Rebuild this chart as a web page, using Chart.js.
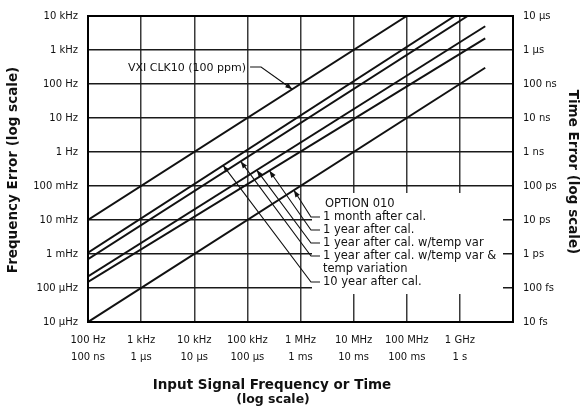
<!DOCTYPE html>
<html>
<head>
<meta charset="utf-8">
<script src="https://cdn.jsdelivr.net/npm/chart.js@4.4.1/dist/chart.umd.min.js"></script>
<style>
  html, body { margin: 0; padding: 0; background: #fff; }
  canvas { display: block; }
</style>
</head>
<body>
<canvas id="chart" width="582" height="407"></canvas>
<script>
// Decade ticks on both axes
const freqTicks = [1e2, 1e3, 1e4, 1e5, 1e6, 1e7, 1e8, 1e9];
const freqLabels = ['100 Hz', '1 kHz', '10 kHz', '100 kHz', '1 MHz', '10 MHz', '100 MHz', '1 GHz'];
const timeLabels = ['100 ns', '1 µs', '10 µs', '100 µs', '1 ms', '10 ms', '100 ms', '1 s'];

const errTicks = [1e-5, 1e-4, 1e-3, 1e-2, 1e-1, 1, 1e1, 1e2, 1e3, 1e4];
const errLabels = ['10 µHz', '100 µHz', '1 mHz', '10 mHz', '100 mHz', '1 Hz', '10 Hz', '100 Hz', '1 kHz', '10 kHz'];
const timeErrLabels = ['10 fs', '100 fs', '1 ps', '10 ps', '100 ps', '1 ns', '10 ns', '100 ns', '1 µs', '10 µs'];

// Error lines: start and end point of each (frequency, frequency error)
const lineNames = [
    'VXI CLK10 (100 ppm)',
    '10 year after cal.',
    '1 year after cal. w/temp var & temp variation',
    '1 year after cal. w/temp var',
    '1 year after cal.',
    '1 month after cal.',
];
const startFreq = [100, 100, 100, 100, 100, 100];
const startErr  = [1e-2, 1.1e-3, 7e-4, 2.2e-4, 1.5e-4, 1e-5];
const endFreq   = [1e8, 8e8, 1.4e9, 3e9, 3e9, 3e9];
const endErr    = [1e4, 1e4, 1e4, 5e3, 2.2e3, 300];

// Frequency where each label's leader meets its line
const tipFreq = [7e5, 3.5e4, 7.5e4, 1.5e5, 2.6e5, 7.5e5];

// OPTION 010 label block: text rows and the line each one points at
const optionTitle = 'OPTION 010';
const optionRows = [
    { line: 5, text: ['1 month after cal.'] },
    { line: 4, text: ['1 year after cal.'] },
    { line: 3, text: ['1 year after cal. w/temp var'] },
    { line: 2, text: ['1 year after cal. w/temp var &', 'temp variation'] },
    { line: 1, text: ['10 year after cal.'] },
];

const INK = '#111';
const FONT = '"DejaVu Sans", sans-serif';

function pointOn(chart, i, f) {
    const lf0 = Math.log10(startFreq[i]), lf1 = Math.log10(endFreq[i]);
    const le0 = Math.log10(startErr[i]), le1 = Math.log10(endErr[i]);
    const t = (Math.log10(f) - lf0) / (lf1 - lf0);
    const e = Math.pow(10, le0 + t * (le1 - le0));
    return {
        x: chart.scales.x.getPixelForValue(f),
        y: chart.scales.y.getPixelForValue(e),
    };
}

function arrowHead(ctx, from, to) {
    const a = Math.atan2(to.y - from.y, to.x - from.x);
    const len = 7, half = 2.6;
    const bx = to.x - len * Math.cos(a), by = to.y - len * Math.sin(a);
    ctx.beginPath();
    ctx.moveTo(to.x, to.y);
    ctx.lineTo(bx - half * Math.sin(a), by + half * Math.cos(a));
    ctx.lineTo(bx + half * Math.sin(a), by - half * Math.cos(a));
    ctx.closePath();
    ctx.fill();
}

const annotate = {
    id: 'annotate',
    beforeDatasetsDraw(chart) {
        // blank out the grid behind the option labels
        const { ctx, chartArea: a } = chart;
        ctx.save();
        ctx.fillStyle = '#fff';
        ctx.fillRect(312, 193, a.right - 10 - 312, 101);
        ctx.restore();
    },
    afterDatasetsDraw(chart) {
        const { ctx, chartArea: a } = chart;
        ctx.save();

        // frame
        ctx.strokeStyle = '#000';
        ctx.lineWidth = 2;
        ctx.strokeRect(a.left, a.top, a.right - a.left, a.bottom - a.top);

        ctx.strokeStyle = INK;
        ctx.fillStyle = INK;
        ctx.lineWidth = 1.1;
        ctx.textBaseline = 'middle';
        ctx.textAlign = 'left';

        // VXI CLK10 label
        ctx.font = '11px ' + FONT;
        const vx = 128, vy = 68;
        ctx.fillText(lineNames[0], vx, vy);
        const vEnd = vx + ctx.measureText(lineNames[0]).width;
        const vTip = pointOn(chart, 0, tipFreq[0]);
        const vBend = { x: vEnd + 15, y: vy - 1 };
        ctx.beginPath();
        ctx.moveTo(vEnd + 4, vy - 1);
        ctx.lineTo(vBend.x, vBend.y);
        ctx.lineTo(vTip.x, vTip.y);
        ctx.stroke();
        arrowHead(ctx, vBend, vTip);

        // OPTION 010 block
        const tx = 323;
        let y = 204;
        ctx.font = '11.5px ' + FONT;
        ctx.fillText(optionTitle, tx + 2, y);
        y += 13;
        optionRows.forEach(row => {
            const tip = pointOn(chart, row.line, tipFreq[row.line]);
            const bend = { x: 311, y: y };
            ctx.beginPath();
            ctx.moveTo(tip.x, tip.y);
            ctx.lineTo(bend.x, bend.y);
            ctx.lineTo(tx - 3, y);
            ctx.stroke();
            arrowHead(ctx, bend, tip);
            row.text.forEach(t => {
                ctx.fillText(t, tx, y);
                y += 13;
            });
        });
        ctx.restore();
    },
    afterDraw(chart) {
        const { ctx } = chart;
        ctx.save();
        ctx.fillStyle = INK;
        ctx.textAlign = 'center';
        ctx.textBaseline = 'middle';

        ctx.font = 'bold 13.5px ' + FONT;
        ctx.fillText('Input Signal Frequency or Time', 272, 385);
        ctx.font = 'bold 12.5px ' + FONT;
        ctx.fillText('(log scale)', 273, 400);

        ctx.font = 'bold 13.5px ' + FONT;
        ctx.save();
        ctx.translate(13, 170);
        ctx.rotate(-Math.PI / 2);
        ctx.fillText('Frequency Error (log scale)', 0, 0);
        ctx.restore();

        ctx.save();
        ctx.translate(572, 172);
        ctx.rotate(Math.PI / 2);
        ctx.fillText('Time Error (log scale)', 0, 0);
        ctx.restore();

        ctx.restore();
    },
};

const datasets = lineNames.map((name, i) => ({
    label: name,
    data: [
        { x: startFreq[i], y: startErr[i] },
        { x: endFreq[i], y: endErr[i] },
    ],
    borderColor: INK,
    borderWidth: 2,
    pointRadius: 0,
    tension: 0,
    fill: false,
}));

const tickFont = { family: FONT, size: 10 };

new Chart(document.getElementById('chart'), {
    type: 'line',
    data: { datasets },
    options: {
        responsive: false,
        animation: false,
        devicePixelRatio: 1,
        layout: { padding: { top: 13, left: 0, right: 0, bottom: 0 } },
        plugins: {
            legend: { display: false },
            tooltip: { enabled: false },
        },
        scales: {
            x: {
                type: 'logarithmic',
                position: 'bottom',
                min: 1e2,
                max: 1e10,
                afterBuildTicks: s => { s.ticks = freqTicks.map(v => ({ value: v })); },
                afterFit: s => { s.height = 85; },
                ticks: {
                    autoSkip: false,
                    maxRotation: 0,
                    color: INK,
                    font: { ...tickFont, lineHeight: 1.7 },
                    padding: 10,
                    callback: (v, i) => [freqLabels[i], timeLabels[i]],
                },
                grid: { color: '#3a3a3a', lineWidth: 1.5, drawTicks: false },
                border: { color: '#000', width: 2 },
            },
            y: {
                type: 'logarithmic',
                position: 'left',
                min: 1e-5,
                max: 1e4,
                afterBuildTicks: s => { s.ticks = errTicks.map(v => ({ value: v })); },
                afterFit: s => { s.width = 88; },
                ticks: {
                    autoSkip: false,
                    color: INK,
                    font: tickFont,
                    padding: 10,
                    callback: (v, i) => errLabels[i],
                },
                grid: { color: '#1a1a1a', lineWidth: 1.6, drawTicks: false },
                border: { color: '#000', width: 2 },
            },
            y2: {
                type: 'logarithmic',
                position: 'right',
                min: 1e-5,
                max: 1e4,
                afterBuildTicks: s => { s.ticks = errTicks.map(v => ({ value: v })); },
                afterFit: s => { s.width = 69; },
                ticks: {
                    autoSkip: false,
                    color: INK,
                    font: tickFont,
                    padding: 10,
                    callback: (v, i) => timeErrLabels[i],
                },
                grid: { display: false, drawTicks: false },
                border: { color: '#000', width: 2 },
            },
        },
    },
    plugins: [annotate],
});
</script>
</body>
</html>
